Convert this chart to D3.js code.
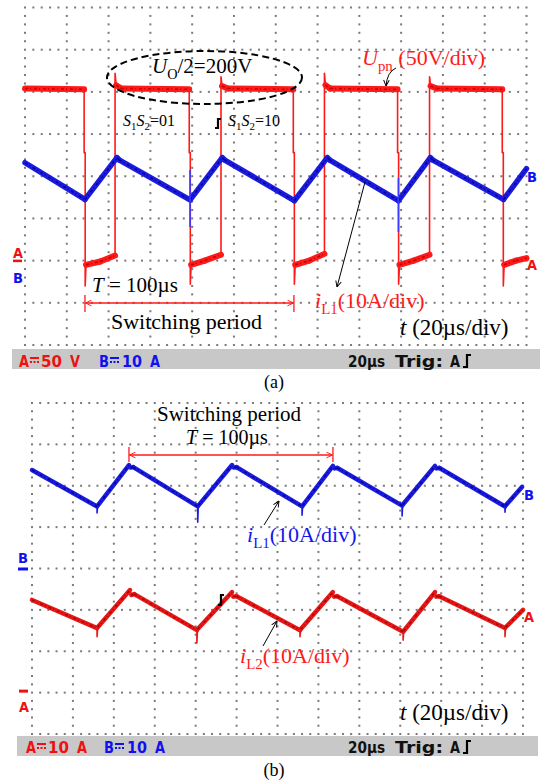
<!DOCTYPE html>
<html><head><meta charset="utf-8">
<script src="https://cdn.jsdelivr.net/npm/d3@7/dist/d3.min.js"></script>
<style>
html,body{margin:0;padding:0;background:#fff;}
svg{display:block;}
</style></head><body>
<script>
// ================= DATA =================
const timeDomain = [0, 240];               // 12 div x 20 µs/div
const timeTicks  = d3.range(0, 241, 20);   // grid columns (µs)
const divTicks   = d3.range(-4, 5, 1);     // 8 vertical divisions

// ---- Panel (a) ----  channel A: Upn, 50 V/div, zero at -2 div ; channel B: iL1, 10 A/div, zero at -2 div
const upnA = [ // [µs, V]
  [0,204],[28.3,203],[28.3,128],[28.8,128],[28.8,-30],[29.2,-5],[36,-1],[43.1,6],
  [43.1,222],[43.6,208],[46,204],[78.6,203],[78.6,128],[79.1,128],[79.1,-28],[79.5,-5],[86,0],[93.8,7],
  [93.8,218],[94.3,207],[97,204],[128.4,203],[128.4,128],[128.9,128],[128.9,-28],[129.3,-5],[136,0],[143.3,8],
  [143.3,222],[143.8,208],[146,204],[178.3,203],[178.3,128],[178.8,128],[178.8,-28],[179.2,-5],[186,0],[193.6,7],
  [193.6,218],[194.1,207],[197,204],[228.4,203],[228.4,128],[228.9,128],[228.9,-30],[229.3,-5],[235,0],[240,3]
];
const iL1A = [ // [µs, A]
  [0,23.2],[28.7,14.5],[44,24.4],[45,23.9],[79,14.4],[94.4,24.4],[95.4,23.9],[128.9,14.2],
  [144.7,24.4],[145.7,23.9],[178.7,14.2],[194,24.4],[195,23.9],[229,14.5],[240,21.8]
];
const iL1ASpikes = [[79,21.5,8.0],[178.7,19.6,6.8]]; // [µs, top A, bottom A]
const periodA = [28.7, 128.7];                        // µs, switching period marker

// ---- Panel (b) ----  channel B: iL1, 10 A/div, zero at 0 div ; channel A: iL2, 10 A/div, zero at -3 div
const iL1B = [
  [0,23.8],[31.8,15],[31.8,13.4],[32.1,15.2],[47.4,25],[48.2,24.4],[49.5,24.5],[81,15],[81,11.2],[81.3,15.2],
  [97.8,25],[98.6,24.4],[100,24.5],[132,15],[132,12.9],[132.3,15.2],[147.1,24.8],[147.9,24.2],[149.3,24.3],
  [180.9,15.2],[180.9,12.7],[181.2,15.4],[197,24.8],[197.8,24.2],[199.2,24.3],[231.2,15],[231.2,13.6],[231.5,15.2],[239.5,19.7]
];
const iL2B = [
  [0,22.4],[31.8,15.6],[31.8,13.5],[32.1,15.8],[47.9,24.8],[48.5,23.6],[50,23.8],[80.6,15.1],[80.6,12],[80.9,15.3],
  [97.8,24.3],[98.4,23.2],[100,23.3],[131,15.1],[131,13.5],[131.3,15.3],[147.1,24.3],[147.7,23.2],[149.2,23.3],
  [181.4,14.7],[181.4,12.7],[181.7,14.9],[197,24.3],[197.6,23.2],[199,23.3],[231.2,15.6],[231.2,13.5],[231.5,15.8],[240,20]
];
const periodB = [47.4, 147.1];

// status-bar labels
const statusA = {a:"A", av:"50", au:"V", b:"B", bv:"10", bu:"A"};
const statusB = {a:"A", av:"10", au:"A", b:"B", bv:"10", bu:"A"};
const timebase = ["20µs", "Trig:", "A"];

// ================= DRAWING =================
const RED = "#ff1a1a", DRED = "#b00000", BLUE = "#1c1ce0", DBLUE = "#000088";
const SERIF = "'Liberation Serif','Times New Roman',serif";
const SCOPE = "'DejaVu Sans',sans-serif";

const svg = d3.select("body").append("svg").attr("width", 540).attr("height", 782);
const defs = svg.append("defs");
function arrowMarker(id, color) {
  defs.append("marker").attr("id", id).attr("viewBox", "0 0 10 10")
    .attr("refX", 9.5).attr("refY", 5).attr("markerWidth", 7).attr("markerHeight", 7)
    .attr("markerUnits", "userSpaceOnUse").attr("orient", "auto-start-reverse")
    .append("path").attr("d", "M1,1 L9.5,5 L1,9").attr("fill", "none")
    .attr("stroke", color).attr("stroke-width", 1.4);
}
arrowMarker("ak", "#000");
arrowMarker("ar", RED);

function makePanel(x0, x1, yTop, yBot) {
  const x = d3.scaleLinear().domain(timeDomain).range([x0, x1]);
  const y = d3.scaleLinear().domain([-4, 4]).range([yBot, yTop]);
  const g = svg.append("g");
  const dots = g.append("g").attr("fill", "#7a7a7a");
  timeTicks.forEach(t => {
    d3.range(-4, 4.001, 0.2).forEach(d => dots.append("rect")
      .attr("x", x(t) - 1).attr("y", y(d) - 1).attr("width", 2).attr("height", 2));
  });
  divTicks.forEach(d => {
    d3.range(0, 240.001, 4).forEach(t => {
      if (timeTicks.indexOf(t) < 0) dots.append("rect")
        .attr("x", x(t) - 1).attr("y", y(d) - 1).attr("width", 2).attr("height", 2);
    });
  });
  return {x, y, g};
}

function trace(P, pts, perDiv, zeroDiv, color, dark, thick) {
  const fy = v => P.y(zeroDiv + v / perDiv);
  const line = d3.line().x(d => P.x(d[0])).y(d => fy(d[1]));
  const segs = [];
  for (let i = 0; i < pts.length - 1; i++) if (pts[i + 1][0] - pts[i][0] > 0.9) segs.push([pts[i], pts[i + 1]]);
  P.g.append("path").attr("d", line(pts)).attr("fill", "none").attr("stroke", color)
    .attr("stroke-width", 1.6).attr("stroke-linejoin", "round");
  segs.forEach(s => P.g.append("path").attr("d", line(s)).attr("fill", "none")
    .attr("stroke", color).attr("stroke-width", thick).attr("stroke-linecap", "round"));
  segs.forEach(s => P.g.append("path").attr("d", line(s)).attr("fill", "none")
    .attr("stroke", dark).attr("stroke-width", 1.6).attr("stroke-dasharray", "3,2,1,3")
    .attr("opacity", 0.8));
  return fy;
}

function rich(x, y, size, color, parts, anchor) {
  const t = svg.append("text").attr("x", x).attr("y", y).attr("font-family", SERIF)
    .attr("font-size", size).attr("fill", color);
  if (anchor) t.attr("text-anchor", anchor);
  let shift = 0;
  parts.forEach(([s, k]) => {
    const sp = t.append("tspan").text(s);
    const want = k === "sub" ? size * 0.27 : 0;
    if (want !== shift) { sp.attr("dy", want - shift); shift = want; }
    if (k === "sub") sp.attr("font-size", size * 0.68);
    if (k === "i") sp.attr("font-style", "italic");
  });
  return t;
}

function scopeText(x, y, s, color, len, size) {
  svg.append("text").attr("x", x).attr("y", y).attr("font-family", SCOPE).attr("font-weight", "bold")
    .attr("font-size", size || 15).attr("fill", color).attr("textLength", len)
    .attr("lengthAdjust", "spacingAndGlyphs").text(s);
}
function dcSym(x, y, color) {
  svg.append("rect").attr("x", x).attr("y", y).attr("width", 9).attr("height", 2).attr("fill", color);
  [0, 3.5, 7].forEach(d => svg.append("rect").attr("x", x + d).attr("y", y + 4).attr("width", 2).attr("height", 2).attr("fill", color));
}
function trigGlyph(x, yTop, yBot, w) {
  svg.append("path").attr("d", `M${x - w},${yBot} L${x},${yBot} L${x},${yTop} L${x + w},${yTop}`)
    .attr("fill", "none").attr("stroke", "#000").attr("stroke-width", 2.2);
}
function statusBar(bx, by, bw, base, st, xs) {
  svg.append("rect").attr("x", bx).attr("y", by).attr("width", bw).attr("height", 20).attr("fill", "#c8c8c8");
  scopeText(xs[0], base, st.a, "#ee1111", 10);
  dcSym(xs[0] + 11, base - 10, "#ee1111");
  scopeText(xs[0] + 22, base, st.av, "#ee1111", 21);
  scopeText(xs[0] + 51, base, st.au, "#ee1111", 10);
  scopeText(xs[1], base, st.b, "#1111ee", 10);
  dcSym(xs[1] + 11, base - 10, "#1111ee");
  scopeText(xs[1] + 23, base, st.bv, "#1111ee", 20);
  scopeText(xs[1] + 51, base, st.bu, "#1111ee", 10);
  scopeText(348, base, timebase[0], "#111", 37);
  scopeText(395, base, timebase[1], "#111", 48);
  scopeText(450, base, timebase[2], "#111", 10);
  trigGlyph(467, base - 12, base, 4);
}
function periodArrow(P, t0, t1, y, h) {
  const xa = P.x(t0), xb = P.x(t1);
  svg.append("line").attr("x1", xa + 0.5).attr("x2", xb - 0.5).attr("y1", y).attr("y2", y)
    .attr("stroke", RED).attr("stroke-width", 1.3)
    .attr("marker-start", "url(#ar)").attr("marker-end", "url(#ar)");
  [xa, xb].forEach(xx => svg.append("line").attr("x1", xx).attr("x2", xx).attr("y1", y - h[0]).attr("y2", y + h[1])
    .attr("stroke", RED).attr("stroke-width", 1.3));
}
function pointer(d) {
  svg.append("path").attr("d", d).attr("fill", "none").attr("stroke", "#000")
    .attr("stroke-width", 1).attr("marker-end", "url(#ak)");
}
function marker(x, y, s, color) {
  svg.append("text").attr("x", x).attr("y", y).attr("font-family", SCOPE).attr("font-weight", "bold")
    .attr("font-size", 14).attr("fill", color).attr("textLength", 10).attr("lengthAdjust", "spacingAndGlyphs").text(s);
}

// ---------- Panel (a) ----------
const PA = makePanel(25, 526.5, 7.5, 345);
const upnY = trace(PA, upnA, 50, -2, RED, DRED, 6);
const il1Y = trace(PA, iL1A, 10, -2, BLUE, DBLUE, 5.5);
iL1ASpikes.forEach(s => PA.g.append("line").attr("x1", PA.x(s[0])).attr("x2", PA.x(s[0]))
  .attr("y1", il1Y(s[1])).attr("y2", il1Y(s[2])).attr("stroke", "#3a3aff").attr("stroke-width", 1.6));

svg.append("rect").attr("x", 13).attr("y", upnY(0) - 1).attr("width", 9).attr("height", 2.5).attr("fill", "#ee1111");
marker(13, 258, "A", "#ee1111");
marker(13, 283, "B", "#1111ee");
marker(527, 182, "B", "#1111ee");
marker(527, 270, "A", "#ee1111");

svg.append("ellipse").attr("cx", 204.5).attr("cy", 77.5).attr("rx", 97.5).attr("ry", 26.5)
  .attr("fill", "none").attr("stroke", "#000").attr("stroke-width", 2).attr("stroke-dasharray", "7,4");
rich(152, 73, 21, "#000", [["U", "i"], ["O", "sub"], ["/2=200V", ""]]);
rich(123, 126, 16, "#000", [["S", "i"], ["1", "sub"], ["S", "i"], ["2", "sub"], ["=01", ""]]);
rich(228, 126, 16, "#000", [["S", "i"], ["1", "sub"], ["S", "i"], ["2", "sub"], ["=10", ""]]);
trigGlyph(218, 119, 128, 3);
rich(362, 65, 22, RED, [["U", "i"], ["pn", "sub"], [" (50V/div)", ""]]);
pointer("M396,68 Q387,72 386,86");
rich(92, 292, 21, "#000", [["T", "i"], [" = 100µs", ""]]);
periodArrow(PA, periodA[0], periodA[1], 303, [8, 9]);
rich(111, 329, 22, "#000", [["Switching period", ""]]);
rich(315, 308, 22, RED, [["i", "i"], ["L1", "sub"], ["(10A/div)", ""]]);
pointer("M365,182 L337,287");
rich(400, 335, 23, "#000", [["t", "i"], [" (20µs/div)", ""]]);
statusBar(12, 349, 528, 367, statusA, [19, 99]);
rich(274, 388, 18, "#000", [["(a)", ""]], "middle");

// ---------- Panel (b) ----------
const PB = makePanel(32, 523, 403, 734);
const il1bY = trace(PB, iL1B, 10, 0, BLUE, DBLUE, 4.5);
const il2bY = trace(PB, iL2B, 10, -3, "#e81818", "#9a0000", 4.5);

svg.append("rect").attr("x", 18).attr("y", il1bY(0) - 1).attr("width", 10).attr("height", 3).attr("fill", "#1111ee");
marker(18, 563, "B", "#1111ee");
svg.append("rect").attr("x", 19).attr("y", il2bY(0) - 3).attr("width", 9).attr("height", 3).attr("fill", "#ee1111");
marker(19, 712, "A", "#ee1111");
marker(524, 500, "B", "#1111ee");
marker(524, 622, "A", "#ee1111");

rich(229, 421, 21, "#000", [["Switching period", ""]], "middle");
rich(186, 444, 20, "#000", [["T", "i"], [" = 100µs", ""]]);
periodArrow(PB, periodB[0], periodB[1], 455, [8, 7]);
rich(247, 542, 22, "#1515ee", [["i", "i"], ["L1", "sub"], ["(10A/div)", ""]]);
pointer("M264,525 L279,501");
rich(240, 663, 22, RED, [["i", "i"], ["L2", "sub"], ["(10A/div)", ""]]);
pointer("M263,646 L277,621");
trigGlyph(221, 595, 605, 3);
rich(400, 720, 23, "#000", [["t", "i"], [" (20µs/div)", ""]]);
statusBar(17, 736, 521, 753, statusB, [26, 104]);
rich(274, 776, 18, "#000", [["(b)", ""]], "middle");
</script>
</body></html>
